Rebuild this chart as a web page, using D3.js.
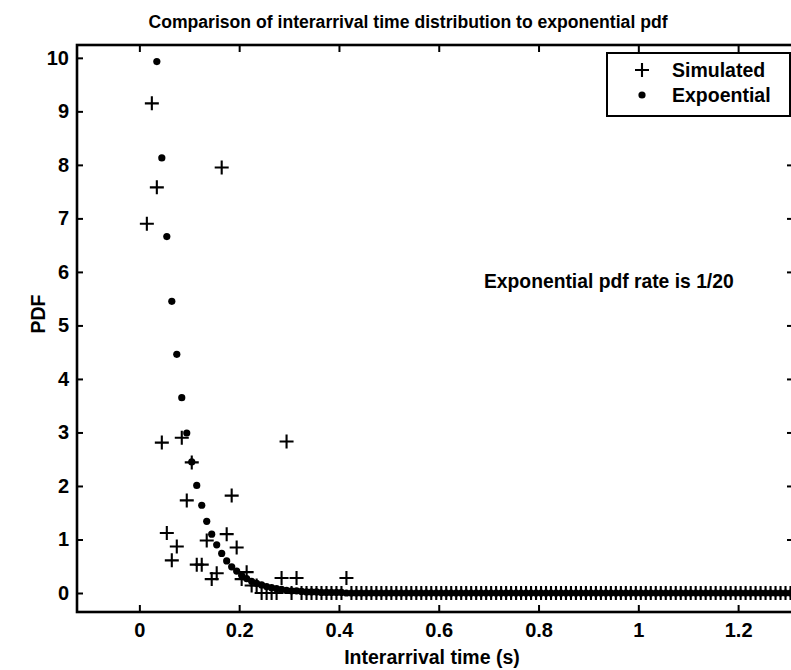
<!DOCTYPE html>
<html>
<head>
<meta charset="utf-8">
<script src="https://cdn.jsdelivr.net/npm/d3@7"></script>
<style>
  html, body { margin: 0; padding: 0; background: #fff; }
  svg { display: block; }
</style>
</head>
<body>
<svg id="chart" width="791" height="670"></svg>
<script>
// Histogram bin centres (s)
const binCenters = [
  0.015, 0.025, 0.035, 0.045, 0.055, 0.065, 0.075, 0.085, 0.095, 0.105,
  0.115, 0.125, 0.135, 0.145, 0.155, 0.165, 0.175, 0.185, 0.195, 0.205,
  0.215, 0.225, 0.235, 0.245, 0.255, 0.265, 0.275, 0.285, 0.295, 0.305,
  0.315, 0.325, 0.335, 0.345, 0.355, 0.365, 0.375, 0.385, 0.395, 0.405,
  0.415, 0.425, 0.435, 0.445, 0.455, 0.465, 0.475, 0.485, 0.495, 0.505,
  0.515, 0.525, 0.535, 0.545, 0.555, 0.565, 0.575, 0.585, 0.595, 0.605,
  0.615, 0.625, 0.635, 0.645, 0.655, 0.665, 0.675, 0.685, 0.695, 0.705,
  0.715, 0.725, 0.735, 0.745, 0.755, 0.765, 0.775, 0.785, 0.795, 0.805,
  0.815, 0.825, 0.835, 0.845, 0.855, 0.865, 0.875, 0.885, 0.895, 0.905,
  0.915, 0.925, 0.935, 0.945, 0.955, 0.965, 0.975, 0.985, 0.995, 1.005,
  1.015, 1.025, 1.035, 1.045, 1.055, 1.065, 1.075, 1.085, 1.095, 1.105,
  1.115, 1.125, 1.135, 1.145, 1.155, 1.165, 1.175, 1.185, 1.195, 1.205,
  1.215, 1.225, 1.235, 1.245, 1.255, 1.265, 1.275, 1.285, 1.295, 1.305
];

// Normalised histogram of the simulated interarrival times
const simulatedPdf = [
  6.90, 9.15, 7.58, 2.81, 1.12, 0.61, 0.87, 2.90, 1.73, 2.44,
  0.53, 0.53, 0.98, 0.26, 0.37, 7.95, 1.10, 1.82, 0.85, 0.26,
  0.39, 0.14, 0.14, 0, 0, 0, 0, 0.28, 2.83, 0,
  0.28, 0, 0, 0, 0, 0, 0, 0, 0, 0,
  0.28, 0, 0, 0, 0, 0, 0, 0, 0, 0,
  0, 0, 0, 0, 0, 0, 0, 0, 0, 0,
  0, 0, 0, 0, 0, 0, 0, 0, 0, 0,
  0, 0, 0, 0, 0, 0, 0, 0, 0, 0,
  0, 0, 0, 0, 0, 0, 0, 0, 0, 0,
  0, 0, 0, 0, 0, 0, 0, 0, 0, 0,
  0, 0, 0, 0, 0, 0, 0, 0, 0, 0,
  0, 0, 0, 0, 0, 0, 0, 0, 0, 0,
  0, 0, 0, 0, 0, 0, 0, 0, 0, 0
];

// Exponential pdf at the same bin centres (first two lie above the plotted range)
const exponentialPdf = [
  null, null, 9.93, 8.13, 6.66, 5.45, 4.46, 3.65, 2.99, 2.45,
  2.01, 1.64, 1.34, 1.10, 0.90, 0.74, 0.60, 0.49, 0.41, 0.33,
  0.27, 0.22, 0.18, 0.15, 0.12, 0.10, 0.08, 0.07, 0.05, 0.04,
  0.04, 0.03, 0.02, 0.02, 0.02, 0.01, 0.01, 0.01, 0.01, 0.01,
  0, 0, 0, 0, 0, 0, 0, 0, 0, 0,
  0, 0, 0, 0, 0, 0, 0, 0, 0, 0,
  0, 0, 0, 0, 0, 0, 0, 0, 0, 0,
  0, 0, 0, 0, 0, 0, 0, 0, 0, 0,
  0, 0, 0, 0, 0, 0, 0, 0, 0, 0,
  0, 0, 0, 0, 0, 0, 0, 0, 0, 0,
  0, 0, 0, 0, 0, 0, 0, 0, 0, 0,
  0, 0, 0, 0, 0, 0, 0, 0, 0, 0,
  0, 0, 0, 0, 0, 0, 0, 0, 0, 0
];

const xTicks = [0, 0.2, 0.4, 0.6, 0.8, 1, 1.2];
const xTickLabels = ["0", "0.2", "0.4", "0.6", "0.8", "1", "1.2"];
const yTicks = [0, 1, 2, 3, 4, 5, 6, 7, 8, 9, 10];
const legendLabels = ["Simulated", "Expoential"];
const titleText = "Comparison of interarrival time distribution to exponential pdf";
const xLabelText = "Interarrival time (s)";
const yLabelText = "PDF";
const noteText = "Exponential pdf rate is 1/20";

if (simulatedPdf.length !== binCenters.length || exponentialPdf.length !== binCenters.length) {
  throw new Error("series length mismatch");
}

const svg = d3.select("#chart");
const W = 791, H = 670;
const plot = { left: 77, right: 793, top: 45, bottom: 612 };
const font = "'Liberation Sans', Arial, Helvetica, sans-serif";

svg.append("rect").attr("width", W).attr("height", H).attr("fill", "#fff");

const x = d3.scaleLinear().domain([-0.125, 1.31]).range([plot.left, plot.right]);
const y = d3.scaleLinear().domain([-0.355, 10.24]).range([plot.bottom, plot.top]);

svg.append("defs").append("clipPath").attr("id", "plotClip")
  .append("rect")
  .attr("x", plot.left).attr("y", plot.top)
  .attr("width", plot.right - plot.left).attr("height", plot.bottom - plot.top);

// Axes: ticks point inward, labels on bottom and left only
function styleAxis(g) {
  g.select(".domain").remove();
  g.selectAll(".tick line").attr("stroke", "#000").attr("stroke-width", 2);
  g.selectAll(".tick text")
    .attr("fill", "#000")
    .style("font-family", font)
    .style("font-size", "20px")
    .style("font-weight", "bold");
}

svg.append("g")
  .attr("transform", `translate(0,${plot.bottom})`)
  .call(d3.axisBottom(x).tickValues(xTicks)
    .tickFormat((d, i) => xTickLabels[i]).tickSizeInner(-7).tickSizeOuter(0).tickPadding(11))
  .call(styleAxis);

svg.append("g")
  .attr("transform", `translate(0,${plot.top})`)
  .call(d3.axisTop(x).tickValues(xTicks).tickFormat("").tickSizeInner(-7).tickSizeOuter(0))
  .call(styleAxis);

svg.append("g")
  .attr("transform", `translate(${plot.left},0)`)
  .call(d3.axisLeft(y).tickValues(yTicks).tickFormat(d3.format("d"))
    .tickSizeInner(-6).tickSizeOuter(0).tickPadding(8))
  .call(styleAxis);

svg.append("g")
  .attr("transform", `translate(${plot.right},0)`)
  .call(d3.axisRight(y).tickValues(yTicks).tickFormat("").tickSizeInner(-6).tickSizeOuter(0))
  .call(styleAxis);

// Axes box
svg.append("rect")
  .attr("x", plot.left).attr("y", plot.top)
  .attr("width", plot.right - plot.left).attr("height", plot.bottom - plot.top)
  .attr("fill", "none").attr("stroke", "#000").attr("stroke-width", 2.6);

// Markers
const plusPath = "M-7,0H7M0,-7V7";
const marks = svg.append("g").attr("clip-path", "url(#plotClip)");

const simData = binCenters.map((t, i) => ({ t, v: simulatedPdf[i] }));
const expData = binCenters.map((t, i) => ({ t, v: exponentialPdf[i] })).filter(d => d.v !== null);

marks.append("g").selectAll("path")
  .data(simData).join("path")
  .attr("transform", d => `translate(${x(d.t)},${y(d.v)})`)
  .attr("d", plusPath)
  .attr("stroke", "#000").attr("stroke-width", 2.1).attr("fill", "none");

marks.append("g").selectAll("circle")
  .data(expData).join("circle")
  .attr("cx", d => x(d.t)).attr("cy", d => y(d.v))
  .attr("r", 3.6).attr("fill", "#000");

// Title, axis labels and annotation
const textBold = sel => sel.attr("fill", "#000").style("font-family", font).style("font-weight", "bold");

svg.append("text").call(textBold)
  .attr("x", 408).attr("y", 28).attr("text-anchor", "middle")
  .style("font-size", "17.6px").text(titleText);

svg.append("text").call(textBold)
  .attr("x", 432).attr("y", 664).attr("text-anchor", "middle")
  .style("font-size", "19.5px").text(xLabelText);

svg.append("text").call(textBold)
  .attr("transform", "translate(45,314) rotate(-90)")
  .attr("text-anchor", "middle")
  .style("font-size", "19.5px").text(yLabelText);

svg.append("text").call(textBold)
  .attr("x", 484).attr("y", 288)
  .style("font-size", "19.3px").text(noteText);

// Legend
const legend = svg.append("g");
legend.append("rect")
  .attr("x", 607).attr("y", 53).attr("width", 183).attr("height", 63)
  .attr("fill", "#fff").attr("stroke", "#000").attr("stroke-width", 2);

const legendRows = legendLabels.map((label, i) => ({ label, i }));
const rowY = d3.scalePoint().domain(legendLabels).range([70, 95]);

legend.selectAll("g.row").data(legendRows).join("g")
  .attr("class", "row")
  .attr("transform", d => `translate(0,${rowY(d.label)})`)
  .each(function (d) {
    const g = d3.select(this);
    if (d.i === 0) {
      g.append("path").attr("transform", "translate(642,0)").attr("d", plusPath)
        .attr("stroke", "#000").attr("stroke-width", 2.1).attr("fill", "none");
    } else {
      g.append("circle").attr("cx", 642).attr("cy", 0).attr("r", 3.6).attr("fill", "#000");
    }
    g.append("text").call(textBold)
      .attr("x", 672).attr("y", 0).attr("dy", "0.36em")
      .style("font-size", "19.5px").text(d.label);
  });
</script>
</body>
</html>
